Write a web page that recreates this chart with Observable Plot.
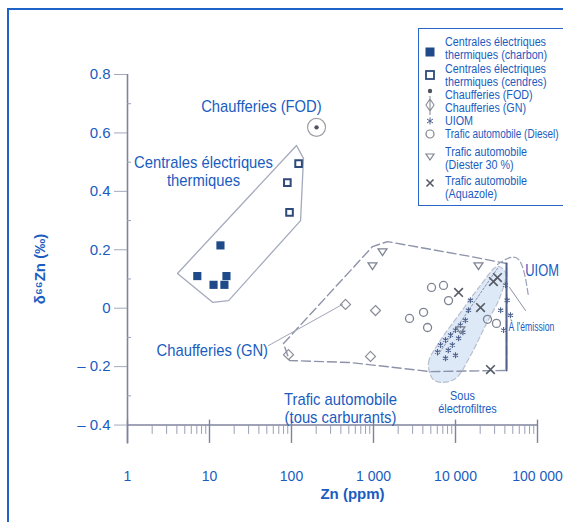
<!DOCTYPE html>
<html><head><meta charset="utf-8">
<script src="https://cdn.jsdelivr.net/npm/d3@7"></script>
<script src="https://cdn.jsdelivr.net/npm/@observablehq/plot@0.6"></script>
<style>
body{margin:0;background:#fff;}
#wrap{position:relative;width:563px;height:522px;overflow:hidden;font-family:"Liberation Sans",Arial,sans-serif;}
#frame{position:absolute;left:7px;top:8px;width:700px;height:700px;border-top:2px solid #1f63c9;border-left:2px solid #1f63c9;box-sizing:border-box;}
#chart{position:absolute;left:0;top:0;}
#legend{position:absolute;left:418px;top:28px;width:170px;height:176px;border:1px solid #2a66c8;background:#fff;}
#legend .t{position:absolute;left:26px;font-family:"Liberation Sans",Arial,sans-serif;font-size:12.5px;line-height:13px;color:#1a5cc0;white-space:nowrap;transform:scaleX(0.86);transform-origin:0 50%;}
#legend .t.w{transform:scaleX(0.8);}
#legend svg{position:absolute;left:0;top:0;}
</style></head>
<body>
<div id="wrap"><div id="frame"></div><div id="chart"></div><div id="legend"></div></div>
<script>
// ---- data (Zn in ppm, δ66Zn in ‰) ----
const charbonZn = [7.1, 11.2, 13.6, 16.1, 15.2];
const charbonD  = [0.11, 0.08, 0.215, 0.11, 0.08];
const cendresZn = [122, 89, 94.6];
const cendresD  = [0.495, 0.43, 0.328];
const fodZn = [202];
const fodD  = [0.619];
const gnZn = [91.9, 1058, 919, 456];
const gnD  = [-0.159, -0.008, -0.165, 0.013];
const uiomZn = [6030, 6570, 7550, 8170, 8700, 9150, 10000, 10900, 11500, 12300, 13200, 14400, 15200, 10000, 7550, 40700, 42600, 46800, 38600, 35500];
const uiomD  = [-0.15, -0.126, -0.109, -0.144, -0.092, -0.126, -0.075, -0.103, -0.058, -0.082, -0.041, -0.007, 0.027, -0.161, -0.171, 0.079, 0.027, -0.024, -0.075, -0.007];
const dieselZn = [5100, 7140, 2750, 4075, 4560, 8220, 24550, 31600];
const dieselD  = [0.071, 0.078, -0.035, -0.014, -0.066, 0.026, -0.038, -0.052];
const diesterZn = [1288, 972, 19070, 11500];
const diesterD  = [0.194, 0.146, 0.146, -0.073];
const aquaZn = [32500, 20200, 26700, 10900, 29000];
const aquaD  = [0.105, 0.002, -0.21, 0.054, 0.091];

// group outlines (data units)
const hullCentralesZn = [4.07, 115, 140, 129, 17.1, 10.9];
const hullCentralesD  = [0.119, 0.557, 0.513, 0.300, 0.026, 0.020];
const hullTraficZn = [79.9, 972, 1482, 15240, 41900, 41900, 4955, 524, 94.6, 79.9];
const hullTraficD  = [-0.121, 0.211, 0.228, 0.177, 0.153, -0.213, -0.217, -0.186, -0.179, -0.121];
const electroZn = [5245, 4690, 6560, 11510, 20180, 32500, 40700, 35380, 23230, 15240, 10000, 6560];
const electroD  = [-0.241, -0.186, -0.110, -0.015, 0.078, 0.143, 0.122, 0.043, -0.059, -0.162, -0.241, -0.254];
const emissionZn = [32500, 58650, 77650];
const emissionD  = [0.150, 0.167, 0.040];

// ticks
const xTicks = [1, 10, 100, 1000, 10000, 100000];
const yTicks = [-0.4, -0.2, 0, 0.2, 0.4, 0.6, 0.8];
const yMinor = [-0.3, -0.1, 0.1, 0.3, 0.5, 0.7];

// texts
const legendLabels = [
  ["Centrales électriques", "thermiques (charbon)"],
  ["Centrales électriques", "thermiques (cendres)"],
  ["Chaufferies (FOD)"],
  ["Chaufferies (GN)"],
  ["UIOM"],
  ["Trafic automobile (Diesel)"],
  ["Trafic automobile", "(Diester 30 %)"],
  ["Trafic automobile", "(Aquazole)"]
];
const midLabels = ["Chaufferies (FOD)", "Centrales électriques", "thermiques", "Trafic automobile", "(tous carburants)"];
const midLabelZn = [43, 8.45, 8.45, 396, 396];
const midLabelD  = [0.69, 0.50, 0.437, -0.311, -0.373];
const startLabels = ["Chaufferies (GN)", "UIOM"];
const startLabelZn = [2.26, 71000];
const startLabelD  = [-0.144, 0.13];
const smallMidLabels = ["Sous", "électrofiltres"];
const smallMidZn = [12170, 14000];
const smallMidD  = [-0.302, -0.345];
const smallStartLabels = ["À l'émission"];
const smallStartZn = [44300];
const smallStartD  = [-0.065];

// ---- chart ----
const BLUE = "#1a5cc0";
const idx = a => d3.range(a.length);
const pts = (xs, ys) => idx(xs).map(i => ({x: xs[i], y: ys[i]}));
const labs = (ts, xs, ys) => idx(ts).map(i => ({t: ts[i], x: xs[i], y: ys[i]}));
const triDown = {draw(ctx, size) { const r = Math.sqrt(size) / 1.6; ctx.moveTo(-r, -r * 0.6); ctx.lineTo(r, -r * 0.6); ctx.lineTo(0, r * 0.9); ctx.closePath(); }};
const fmtX = d => d3.format(",")(d).replace(/,/g, " ");
const fmtY = d => d < 0 ? "– " + Math.abs(d) : String(d);

const chart = Plot.plot({
  width: 563, height: 522,
  marginLeft: 127, marginRight: 26, marginTop: 74, marginBottom: 77,
  x: {type: "log", domain: [1, 100000]},
  y: {domain: [-0.47, 0.8]},
  style: {fontFamily: "'Liberation Sans',Arial,sans-serif", fontSize: "14px", background: "transparent"},
  marks: [
    Plot.line(pts(electroZn, electroD), {x: "x", y: "y", curve: "catmull-rom-closed", fill: "#dde9f6", stroke: "#b9bfd0", strokeWidth: 1.2, strokeDasharray: "5,3"}),
    Plot.line(pts(hullCentralesZn, hullCentralesD), {x: "x", y: "y", curve: "linear-closed", stroke: "#a4a9bc", strokeWidth: 1.3}),
    Plot.line(pts(hullTraficZn, hullTraficD), {x: "x", y: "y", stroke: "#8d93aa", strokeWidth: 1.4, strokeDasharray: "9,4"}),
    Plot.line(pts([41900, 41900], [0.153, -0.213]), {x: "x", y: "y", stroke: "#4f5f8e", strokeWidth: 2}),
    Plot.line(pts(emissionZn, emissionD), {x: "x", y: "y", curve: "natural", stroke: "#9aa0b6", strokeWidth: 1.2, strokeDasharray: "6,3"}),
    Plot.line(pts([6030, 32500], [-0.162, 0.136]), {x: "x", y: "y", stroke: "#8a90a8", strokeWidth: 1, strokeDasharray: "2,2"}),
    Plot.line(pts([52.4, 419], [-0.128, 0.013]), {x: "x", y: "y", stroke: "#a0a5b8", strokeWidth: 1}),
    Plot.line(pts([71450, 45600], [-0.008, 0.071]), {x: "x", y: "y", stroke: "#8a90a8", strokeWidth: 1}),
    // axes
    Plot.ruleX([1], {y1: -0.465, y2: 0.8, stroke: "#7f849c", strokeWidth: 1.6}),
    Plot.ruleY([-0.4], {x1: 1, x2: 100000, stroke: "#7f849c", strokeWidth: 1.6}),
    Plot.ruleX(xTicks, {y1: -0.463, y2: -0.383, stroke: "#7f849c", strokeWidth: 1.4}),
    Plot.ruleX(d3.range(0, 5).flatMap(e => d3.range(2, 10).map(k => k * 10 ** e)), {y1: -0.432, y2: -0.4, stroke: "#9a9fb4", strokeWidth: 1}),
    Plot.ruleY(yMinor, {x1: 1, x2: 1.12, stroke: "#9a9fb4", strokeWidth: 1}),
    Plot.axisY({ticks: yTicks, tickSize: 13, tickFormat: () => "", stroke: "#a4a9bc", label: null}),
    Plot.axisY({ticks: yTicks, tickSize: 0, tickPadding: 17, tickFormat: fmtY, fill: BLUE, label: null, fontSize: 15}),
    Plot.axisX({ticks: xTicks, tickSize: 0, tickPadding: 26, tickFormat: fmtX, fill: BLUE, label: null, fontSize: 14}),
    Plot.text(["Zn (ppm)"], {frameAnchor: "bottom", textAnchor: "middle", lineAnchor: "middle", dx: 20, dy: 49, fill: BLUE, fontWeight: "bold", fontSize: 15}),
    Plot.text(["δ⁶⁶Zn (‰)"], {frameAnchor: "left", textAnchor: "middle", lineAnchor: "middle", rotate: -90, dx: -87, dy: 9, fill: BLUE, fontWeight: "bold", fontSize: 15}),
    // points
    Plot.dot(pts(fodZn, fodD), {x: "x", y: "y", r: 9, stroke: "#a0a0a8", strokeWidth: 1.2, fill: "none"}),
    Plot.dot(pts(charbonZn, charbonD), {x: "x", y: "y", symbol: "square", r: 4.6, fill: "#1f4a8a"}),
    Plot.dot(pts(cendresZn, cendresD), {x: "x", y: "y", symbol: "square2", r: 4.2, stroke: "#2e4a7a", strokeWidth: 2, fill: "#fff"}),
    Plot.dot(pts(fodZn, fodD), {x: "x", y: "y", r: 2.2, fill: "#50545e"}),
    Plot.dot(pts(gnZn, gnD), {x: "x", y: "y", symbol: "diamond2", r: 4.5, stroke: "#8a8d98", strokeWidth: 1.2}),
    Plot.dot(pts(uiomZn, uiomD), {x: "x", y: "y", symbol: "asterisk", r: 2.8, stroke: "#4d5f8c", strokeWidth: 1.1}),
    Plot.dot(pts(dieselZn, dieselD), {x: "x", y: "y", symbol: "circle", r: 4, stroke: "#7e8392", strokeWidth: 1.3, fill: "none"}),
    Plot.dot(pts(diesterZn, diesterD), {x: "x", y: "y", symbol: triDown, r: 4, stroke: "#7e8392", strokeWidth: 1.3, fill: "none"}),
    Plot.dot(pts(aquaZn, aquaD), {x: "x", y: "y", symbol: "times", r: 4, stroke: "#555a66", strokeWidth: 1.6}),
    // annotations
    Plot.text(labs(midLabels, midLabelZn, midLabelD), {x: "x", y: "y", text: "t", textAnchor: "middle", fill: BLUE, fontSize: 17}),
    Plot.text(labs(startLabels, startLabelZn, startLabelD), {x: "x", y: "y", text: "t", textAnchor: "start", fill: BLUE, fontSize: 17}),
    Plot.text(labs(smallMidLabels, smallMidZn, smallMidD), {x: "x", y: "y", text: "t", textAnchor: "middle", fill: BLUE, fontSize: 12.5}),
    Plot.text(labs(smallStartLabels, smallStartZn, smallStartD), {x: "x", y: "y", text: "t", textAnchor: "start", fill: BLUE, fontSize: 12})
  ]
});
document.getElementById("chart").appendChild(chart);

// condense annotation texts horizontally (the original uses a narrow face)
const narrowSet = new Set([...midLabels, ...startLabels, ...smallMidLabels, ...smallStartLabels]);
const tighter = {"UIOM": 0.76, "À l'émission": 0.72};
chart.querySelectorAll("text").forEach(t => {
  if (!narrowSet.has(t.textContent)) return;
  const w = t.getComputedTextLength();
  if (w > 0) {
    t.setAttribute("textLength", (w * (tighter[t.textContent] || 0.87)).toFixed(1));
    t.setAttribute("lengthAdjust", "spacingAndGlyphs");
  }
});

// ---- legend ----
const legendTop = [13, 40, 66, 79, 92, 105, 123, 152];
const legend = document.getElementById("legend");
legendLabels.forEach((lines, i) => {
  lines.forEach((s, j) => {
    const d = document.createElement("div");
    d.className = s.length > 22 ? "t w" : "t";
    d.style.top = (legendTop[i] + j * 13 - 6.5) + "px";
    d.textContent = s;
    legend.appendChild(d);
  });
});
const ns = "http://www.w3.org/2000/svg";
const sv = document.createElementNS(ns, "svg");
sv.setAttribute("width", 24); sv.setAttribute("height", 176);
const mk = [
  `<rect x="6.5" y="18.5" width="9" height="9" fill="#1f4a8a"/>`,
  `<rect x="7" y="42" width="8" height="8" fill="#fff" stroke="#2e4a7a" stroke-width="1.8"/>`,
  `<circle cx="11" cy="62" r="2.2" fill="#50545e"/>`,
  `<path d="M11,70 L15,76 L11,82 L7,76 Z M11,67 L11,86" fill="none" stroke="#8a8d98" stroke-width="1.1"/>`,
  `<path d="M11,88.5 L11,95.5 M8,90 L14,94 M14,90 L8,94" stroke="#4d5f8c" stroke-width="1"/>`,
  `<circle cx="11" cy="105" r="4" fill="none" stroke="#7e8392" stroke-width="1.2"/>`,
  `<path d="M7,125 L15,125 L11,131 Z" fill="none" stroke="#7e8392" stroke-width="1.2"/>`,
  `<path d="M7.5,150.5 L14.5,157.5 M14.5,150.5 L7.5,157.5" stroke="#555a66" stroke-width="1.6"/>`
];
sv.innerHTML = mk.join("");
legend.appendChild(sv);
</script>
</body></html>
